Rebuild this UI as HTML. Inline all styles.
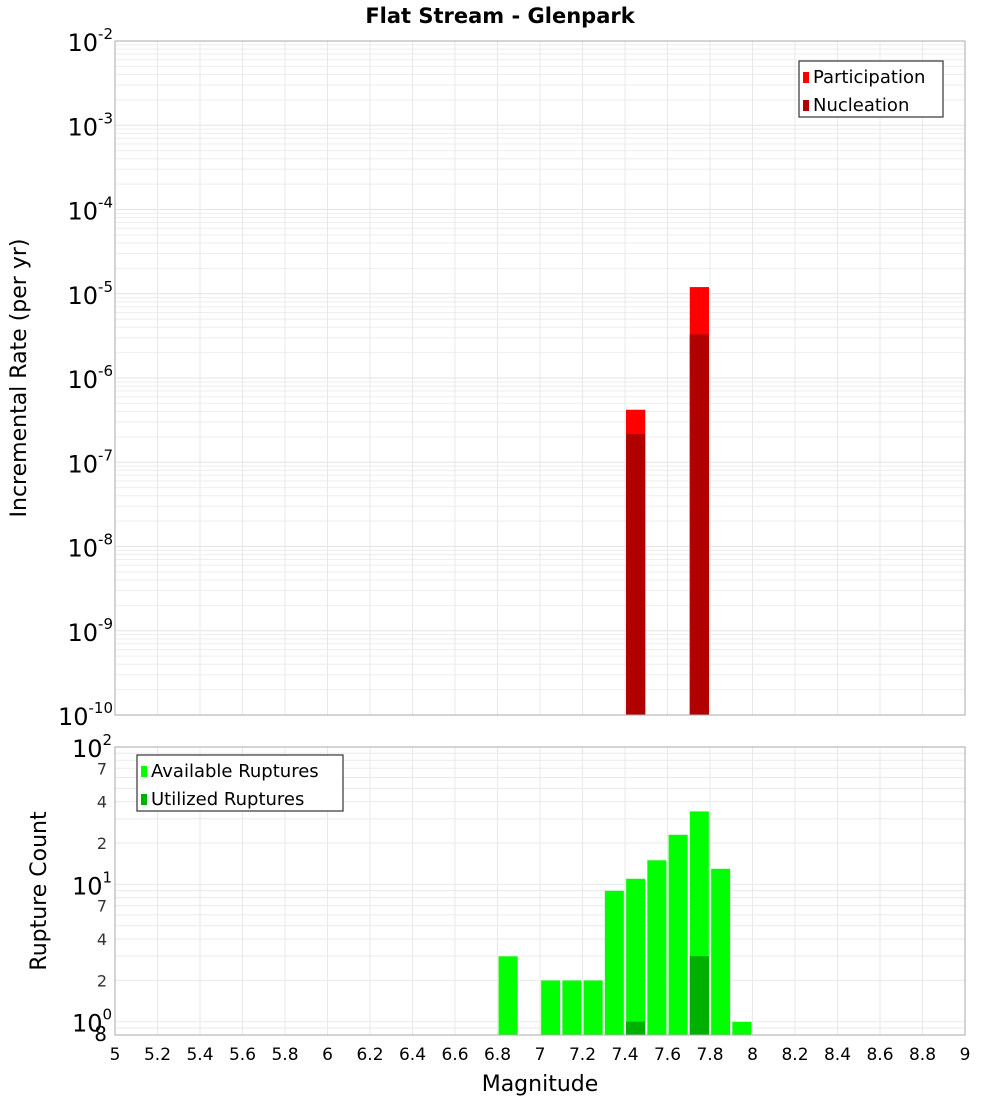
<!DOCTYPE html>
<html><head><meta charset="utf-8"><style>
html,body{margin:0;padding:0;background:#fff;width:1000px;height:1100px;overflow:hidden}
svg text{font-family:"DejaVu Sans","Liberation Sans",sans-serif}
</style></head><body>
<svg id="chart" width="1000" height="1100" xmlns="http://www.w3.org/2000/svg">
<text x="500" y="23" text-anchor="middle" font-size="21" font-weight="bold">Flat Stream - Glenpark</text>
<text transform="translate(26,378) rotate(-90)" text-anchor="middle" font-size="22">Incremental Rate (per yr)</text>
<text transform="translate(46,891) rotate(-90)" text-anchor="middle" font-size="22">Rupture Count</text>
<text x="540" y="1091" text-anchor="middle" font-size="22">Magnitude</text>
<g id="g"></g>
</svg>
<script>
const binCenters=[7.45,7.75];
const participation=[4.2e-7,1.2e-5];
const nucleation=[2.16e-7,3.3e-6];
const countBins=[6.85,7.05,7.15,7.25,7.35,7.45,7.55,7.65,7.75,7.85,7.95];
const available=[3,2,2,2,9,11,15,23,34,13,1];
const utilizedBins=[7.45,7.75];
const utilized=[1,3];
const xTicks=[5,5.2,5.4,5.6,5.8,6,6.2,6.4,6.6,6.8,7,7.2,7.4,7.6,7.8,8,8.2,8.4,8.6,8.8,9];
const topDecades=[-2,-3,-4,-5,-6,-7,-8,-9,-10];

const NS="http://www.w3.org/2000/svg";
const g=document.getElementById('g');
function el(t,a,parent){const e=document.createElementNS(NS,t);for(const k in a)e.setAttribute(k,a[k]);(parent||g).appendChild(e);return e;}
const X0=115,X1=965;
const x=m=>X0+(m-5)/4*(X1-X0);
const T0=41,T1=715;
const yTop=v=>T0+(-2-Math.log10(v))/8*(T1-T0);
const B0=747,B1=1035;
const bMax=Math.log10(100),bMin=Math.log10(0.8);
const yBot=v=>B0+(bMax-Math.log10(v))/(bMax-bMin)*(B1-B0);

// top plot gridlines
for(let d=-10;d<-2;d++){for(let k=1;k<10;k++){const y=yTop(k*Math.pow(10,d));
const l=el('line',{x1:X0,x2:X1,y1:y,y2:y,stroke:k==1?'#e4e4e4':'#eeeeee','stroke-width':1});
}}
for(const t of xTicks){const l=el('line',{x1:x(t),x2:x(t),y1:T0,y2:T1,stroke:'#e8e8e8'});

const l2=el('line',{x1:x(t),x2:x(t),y1:B0,y2:B1,stroke:'#e8e8e8'});
}
// bottom gridlines
for(const v of [0.8,0.9,1,2,3,4,5,6,7,8,9,10,20,30,40,50,60,70,80,90,100]){const y=yBot(v);
const l=el('line',{x1:X0,x2:X1,y1:y,y2:y,stroke:'#eaeaea'});
}

// top bars
const bw=0.1;
binCenters.forEach((m,i)=>{
 const r=el('rect',{x:x(m-bw/2)+1,width:x(m+bw/2)-x(m-bw/2)-2,y:yTop(participation[i]),height:T1-yTop(participation[i]),fill:'#ff0000'});
 
 const n=el('rect',{x:x(m-bw/2)+1,width:x(m+bw/2)-x(m-bw/2)-2,y:yTop(nucleation[i]),height:T1-yTop(nucleation[i]),fill:'#b00000'});
 
});
// bottom bars
countBins.forEach((m,i)=>{
 const r=el('rect',{x:x(m-bw/2)+1,width:x(m+bw/2)-x(m-bw/2)-2,y:yBot(available[i]),height:B1-yBot(available[i]),fill:'#00ff00',stroke:'#b8f0b8','stroke-width':0.5});
 
});
utilizedBins.forEach((m,i)=>{
 const r=el('rect',{x:x(m-bw/2)+1,width:x(m+bw/2)-x(m-bw/2)-2,y:yBot(utilized[i]),height:B1-yBot(utilized[i]),fill:'#00b000'});
 
});
// frames
let f=el('rect',{x:X0,y:T0,width:X1-X0,height:T1-T0,fill:'none',stroke:'#aaaaaa'});

f=el('rect',{x:X0,y:B0,width:X1-X0,height:B1-B0,fill:'none',stroke:'#aaaaaa'});


// top y labels
topDecades.forEach(d=>{const y=yTop(Math.pow(10,d));
 const t=el('text',{x:113,y:y+10,'text-anchor':'end','font-size':24});
 
 const a=el('tspan',{},t);a.textContent='10';
 const b=el('tspan',{dy:-12,'font-size':15},t);b.textContent=String(d);
});
// bottom y labels
[[100,'2'],[10,'1'],[1,'0']].forEach(([v,e])=>{const y=yBot(v);
 const t=el('text',{x:72,y:y+10,'font-size':24});
 
 const a=el('tspan',{},t);a.textContent='10';
 const b=el('tspan',{dy:-12,'font-size':15},t);b.textContent=e;
});
[[70,'7'],[40,'4'],[20,'2'],[7,'7'],[4,'4'],[2,'2'],[0.8,'8']].forEach(([v,s])=>{
 const t=el('text',{x:107,y:yBot(v)+6,'text-anchor':'end','font-size':v==0.8?20:16,fill:v==0.8?'#000':'#333'});
 t.textContent=s;
});
// x labels
xTicks.forEach(v=>{const t=el('text',{x:x(v),y:1060,'text-anchor':'middle','font-size':17});
 t.textContent=String(v);});

// legends
function legend(lx,ly,w,items,name){
 const lg=el('g',{});
 el('rect',{x:lx,y:ly,width:w,height:56,fill:'#fff',stroke:'#333','stroke-width':1.2},lg);
 items.forEach(([c,s],i)=>{
  el('rect',{x:lx+4,y:ly+11+i*28,width:6,height:11,fill:c},lg);
  const t=el('text',{x:lx+14,y:ly+22+i*28,'font-size':18},lg);t.textContent=s;
 });
}
legend(799,61,144,[['#ff0000','Participation'],['#b00000','Nucleation']],'top-legend');
legend(137,755,206,[['#00ff00','Available Ruptures'],['#00b000','Utilized Ruptures']],'bottom-legend');
</script>
</body></html>
